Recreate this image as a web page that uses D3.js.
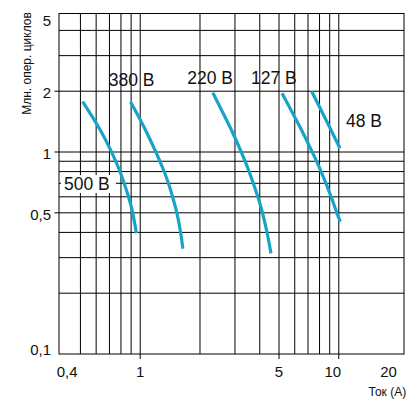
<!DOCTYPE html>
<html>
<head>
<meta charset="utf-8">
<script src="https://cdn.jsdelivr.net/npm/d3@7"></script>
<style>
    body { margin: 0; background: #fff; }
    svg { display: block; }
</style>
</head>
<body>
<script>
// ток (А), млн. операционных циклов
const series500 = [[0.513, 1.775], [0.629, 1.286], [0.715, 1.008], [0.790, 0.803], [0.871, 0.606], [0.918, 0.497], [0.957, 0.396]];
const series380 = [[0.893, 1.775], [1.063, 1.286], [1.319, 0.803], [1.451, 0.606], [1.530, 0.499], [1.599, 0.397], [1.640, 0.332]];
const series220 = [[2.32, 1.967], [2.878, 1.286], [3.217, 1.008], [3.53, 0.803], [3.90, 0.606], [4.134, 0.497], [4.36, 0.396], [4.555, 0.315]];
const series127 = [[5.18, 1.953], [6.49, 1.286], [7.32, 1.008], [8.14, 0.803], [9.12, 0.606], [9.80, 0.497], [10.18, 0.452]];
const series48 = [[7.30, 2.00], [8.75, 1.40], [10.14, 1.043]];

const voltageNames = ["500 В", "380 В", "220 В", "127 В", "48 В"];
// где стоят подписи (в координатах графика)
const voltageLabelAt = [[0.413, 0.648], [0.694, 2.12], [1.726, 2.171], [3.613, 2.171], [10.87, 1.335]];

const xGridValues = [0.5, 0.6, 0.7, 0.8, 0.9, 1, 2, 3, 4, 5, 6, 7, 8, 9, 10];
const yGridValues = [0.2, 0.3, 0.4, 0.5, 0.6, 0.7, 0.8, 0.9, 1, 2, 3, 4];
const xTickLabels = [0.4, 1, 5, 10, 20];
const yTickLabels = [0.1, 0.5, 1, 2, 5];
const xTickMarks = [1, 5, 10];
const yTickMarks = [0.5, 1, 2];

const width = 408;
const height = 399;
const plotLeft = 59, plotRight = 404, plotTop = 13.5, plotBottom = 354;
const curveColor = "#17a4c9";

const svg = d3.select("body").append("svg")
    .attr("width", width)
    .attr("height", height);

const x = d3.scaleLog().domain([0.39, 21.3]).range([plotLeft, plotRight]);
const y = d3.scaleLog().domain([0.1, 4.85]).range([plotBottom, plotTop]);

// сетка
svg.append("g").selectAll("line")
    .data(xGridValues)
    .join("line")
    .attr("x1", d => x(d)).attr("x2", d => x(d))
    .attr("y1", plotTop).attr("y2", plotBottom)
    .attr("stroke", "#000")
    .attr("stroke-width", 1);

svg.append("g").selectAll("line")
    .data(yGridValues)
    .join("line")
    .attr("x1", plotLeft).attr("x2", plotRight)
    .attr("y1", d => y(d)).attr("y2", d => y(d))
    .attr("stroke", "#000")
    .attr("stroke-width", 1);

svg.append("rect")
    .attr("x", plotLeft).attr("y", plotTop)
    .attr("width", plotRight - plotLeft).attr("height", plotBottom - plotTop)
    .attr("fill", "none")
    .attr("stroke", "#000")
    .attr("stroke-width", 1);

// засечки
svg.append("g").selectAll("line")
    .data(xTickMarks)
    .join("line")
    .attr("x1", d => x(d)).attr("x2", d => x(d))
    .attr("y1", plotBottom).attr("y2", plotBottom + 5)
    .attr("stroke", "#000");

svg.append("g").selectAll("line")
    .data(yTickMarks)
    .join("line")
    .attr("x1", plotLeft - 4.5).attr("x2", plotLeft)
    .attr("y1", d => y(d)).attr("y2", d => y(d))
    .attr("stroke", "#000");

const fmt = d => String(d).replace(".", ",");
const xShift = { 0.4: 6, 10: -6, 20: -10 };

svg.append("g").selectAll("text")
    .data(xTickLabels)
    .join("text")
    .attr("x", d => x(d) + (xShift[d] || 0))
    .attr("y", 377)
    .attr("text-anchor", "middle")
    .attr("font-family", "Liberation Sans, Arial, sans-serif")
    .attr("font-size", "15px")
    .attr("fill", "#111")
    .text(fmt);

svg.append("g").selectAll("text")
    .data(yTickLabels)
    .join("text")
    .attr("x", 51)
    .attr("y", d => Math.min(Math.max(y(Math.min(d, 4.85)) + 2, plotTop + 7), plotBottom - 4))
    .attr("dy", "0.35em")
    .attr("text-anchor", "end")
    .attr("font-family", "Liberation Sans, Arial, sans-serif")
    .attr("font-size", "15px")
    .attr("fill", "#111")
    .text(fmt);

// кривые
const line = d3.line()
    .x(d => x(d[0]))
    .y(d => y(d[1]))
    .curve(d3.curveNatural);

const allSeries = [series500, series380, series220, series127, series48];

svg.append("g").selectAll("path")
    .data(allSeries)
    .join("path")
    .attr("d", line)
    .attr("fill", "none")
    .attr("stroke", curveColor)
    .attr("stroke-width", 3.2);

// подписи напряжений
const labels = svg.append("g").selectAll("g")
    .data(voltageNames)
    .join("g")
    .attr("transform", (d, i) => "translate(" + x(voltageLabelAt[i][0]) + "," + y(voltageLabelAt[i][1]) + ")");

labels.filter(d => d === "500 В")
    .append("rect")
    .attr("x", -3).attr("y", -15)
    .attr("width", 55).attr("height", 18)
    .attr("fill", "#fff");

labels.append("text")
    .attr("font-family", "Liberation Sans, Arial, sans-serif")
    .attr("font-size", "17.5px")
    .attr("fill", "#111")
    .text(d => d);

// названия осей
svg.append("text")
    .attr("transform", "translate(30.5,63.5) rotate(-90)")
    .attr("text-anchor", "middle")
    .attr("font-family", "Liberation Sans, Arial, sans-serif")
    .attr("font-size", "12px")
    .attr("fill", "#111")
    .text("Млн. опер. циклов");

svg.append("text")
    .attr("x", 368.5)
    .attr("y", 396)
    .attr("font-family", "Liberation Sans, Arial, sans-serif")
    .attr("font-size", "12px")
    .attr("fill", "#111")
    .text("Ток (А)");
</script>
</body>
</html>
